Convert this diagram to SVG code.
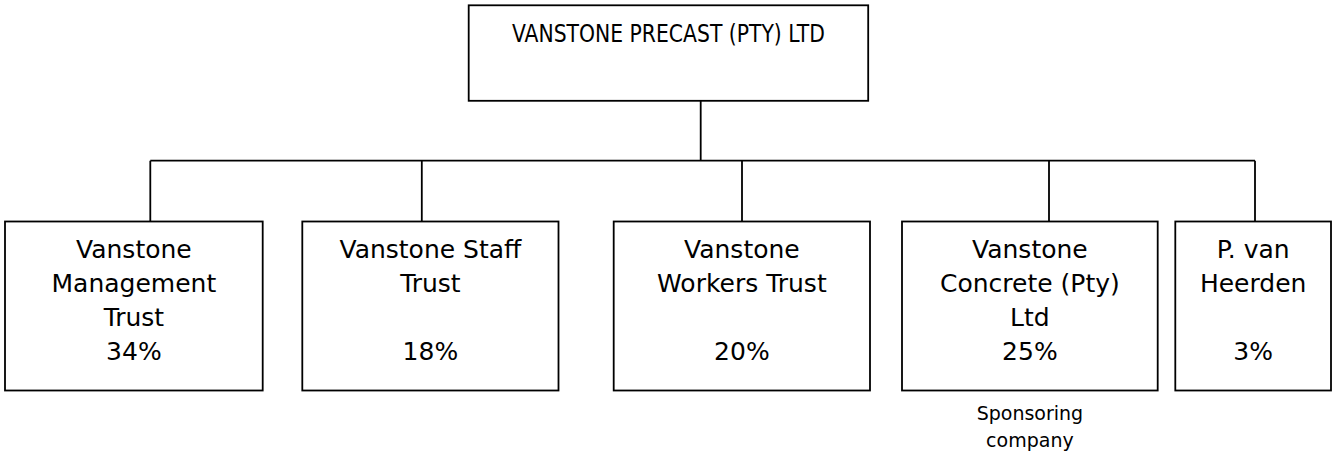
<svg xmlns="http://www.w3.org/2000/svg" width="1335" height="459" viewBox="0 0 1335 459">
<style>
.box{fill:#fff;stroke:#000;stroke-width:1.8}
.ln{fill:none;stroke:#000;stroke-width:1.8}
text{font-family:"DejaVu Sans","Liberation Sans",sans-serif;fill:#000;text-anchor:middle}
.t{font-size:25px}
.h{font-size:24px}
.s{font-size:19px}
</style>
<rect width="1335" height="459" fill="#fff"/>
<g id="connectors">
<path class="ln" d="M700.7 100.8V160.7M150.3 160.7H1255M150.3 160.7V221.5M421.8 160.7V221.5M742 160.7V221.5M1049 160.7V221.5M1255 160.7V221.5"/>
</g>
<g id="top">
<rect class="box" x="468.7" y="5.3" width="399.5" height="95.5"/>
<text class="h" x="668.4" y="42.3" textLength="313" lengthAdjust="spacingAndGlyphs">VANSTONE PRECAST (PTY) LTD</text>
</g>
<g id="mgmt">
<rect class="box" x="5" y="221.5" width="257.7" height="169"/>
<text class="t" x="133.9" y="258.3">Vanstone</text>
<text class="t" x="133.9" y="292.3">Management</text>
<text class="t" x="133.9" y="326.3">Trust</text>
<text class="t" x="133.9" y="360.3">34%</text>
</g>
<g id="staff">
<rect class="box" x="302.3" y="221.5" width="256.2" height="169"/>
<text class="t" x="430.4" y="258.3">Vanstone Staff</text>
<text class="t" x="430.4" y="292.3">Trust</text>
<text class="t" x="430.4" y="360.3">18%</text>
</g>
<g id="workers">
<rect class="box" x="613.7" y="221.5" width="256.3" height="169"/>
<text class="t" x="741.9" y="258.3">Vanstone</text>
<text class="t" x="741.9" y="292.3">Workers Trust</text>
<text class="t" x="741.9" y="360.3">20%</text>
</g>
<g id="concrete">
<rect class="box" x="902" y="221.5" width="255.7" height="169"/>
<text class="t" x="1029.9" y="258.3">Vanstone</text>
<text class="t" x="1029.9" y="292.3">Concrete (Pty)</text>
<text class="t" x="1029.9" y="326.3">Ltd</text>
<text class="t" x="1029.9" y="360.3">25%</text>
<text class="s" x="1029.9" y="420">Sponsoring</text>
<text class="s" x="1029.9" y="447">company</text>
</g>
<g id="heerden">
<rect class="box" x="1175.3" y="221.5" width="155.7" height="169"/>
<text class="t" x="1253.2" y="258.3">P. van</text>
<text class="t" x="1253.2" y="292.3">Heerden</text>
<text class="t" x="1253.2" y="360.3">3%</text>
</g>
</svg>
